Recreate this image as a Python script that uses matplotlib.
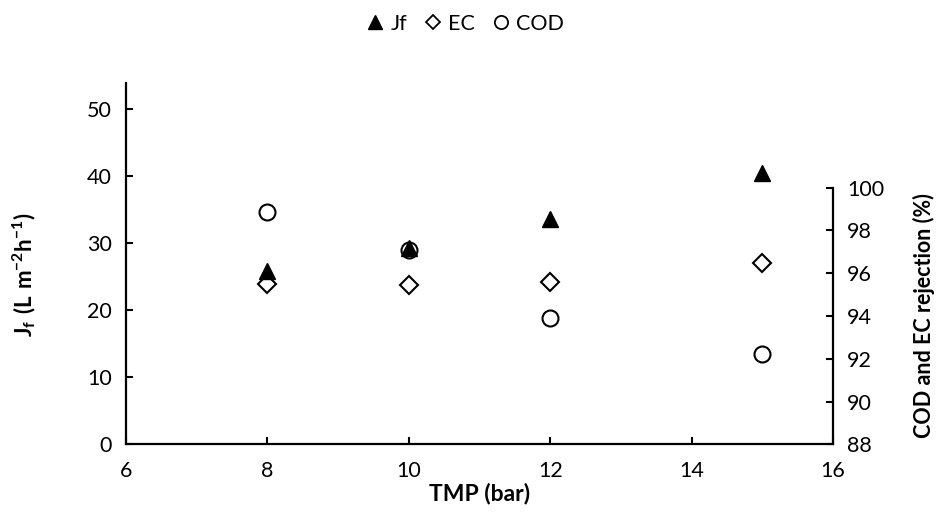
import matplotlib
matplotlib.use("Agg")
import matplotlib.pyplot as plt
from matplotlib.lines import Line2D

plt.rcParams['font.family'] = ['Lato', 'DejaVu Sans']
plt.rcParams['mathtext.fontset'] = 'custom'
plt.rcParams['mathtext.rm'] = 'Lato'
plt.rcParams['mathtext.bf'] = 'Lato:bold'

tmp = [8, 10, 12, 15]
jf = [25.9, 29.3, 33.6, 40.4]
ec = [95.5, 95.45, 95.6, 96.45]
cod = [98.85, 97.1, 93.9, 92.2]

xticks = [6, 8, 10, 12, 14, 16]
yticks_left = [0, 10, 20, 30, 40, 50]
yticks_right = [88, 90, 92, 94, 96, 98, 100]

fig = plt.figure(figsize=(9.36, 5.25), dpi=100)
ax = fig.add_axes([0.1346, 0.1537, 0.7554, 0.6876])
ax2 = ax.twinx()

ax.set_xlim(6, 16)
ax.set_ylim(0, 53.85)
ax2.set_ylim(88, 104.87)

ax.plot(tmp, jf, linestyle='none', marker='^', ms=12, mfc='black', mec='black', mew=1, zorder=5)
ax2.plot(tmp, ec, linestyle='none', marker='D', ms=9.5, mfc='white', mec='black', mew=1.5, zorder=3)
ax2.plot(tmp, cod, linestyle='none', marker='o', ms=11.5, mfc='white', mec='black', mew=1.5, zorder=2)
ax.set_zorder(ax2.get_zorder() + 1)
ax.patch.set_visible(False)

for a in (ax, ax2):
    a.spines['top'].set_visible(False)
    for s in a.spines.values():
        s.set_linewidth(1.6)
    a.tick_params(direction='in', length=5, width=1.5, labelsize=15.5, colors='black')

ax.spines['right'].set_visible(False)
ax2.spines['left'].set_visible(False)
ax2.spines['bottom'].set_visible(False)
ax2.spines['right'].set_bounds(88, 100)

ax.set_xticks(xticks)
ax.set_yticks(yticks_left)
ax2.set_yticks(yticks_right)
ax.tick_params(axis='x', pad=12)
ax.tick_params(axis='y', pad=10)
ax2.tick_params(axis='y', pad=10)

ax.set_xlabel('TMP (bar)', fontsize=16.5, fontweight='bold', labelpad=1)
ax.set_ylabel(r'$\mathbf{J_f\ (L\ m^{-2}h^{-1})}$', fontsize=16)
ax2.set_ylabel('COD and EC rejection (%)', fontsize=15.5, fontweight='bold')
ax.yaxis.set_label_coords(-0.124, 0.47)
ax2.yaxis.set_label_coords(1.1125, 0.358)

handles = [
    Line2D([], [], linestyle='none', marker='^', ms=9.5, mfc='black', mec='black'),
    Line2D([], [], linestyle='none', marker='D', ms=7, mfc='white', mec='black', mew=1.3),
    Line2D([], [], linestyle='none', marker='o', ms=9.5, mfc='white', mec='black', mew=1.3),
]
fig.legend(handles, ['Jf', 'EC', 'COD'], loc='center', bbox_to_anchor=(0.497, 0.955),
           ncol=3, frameon=False, fontsize=15.5, handlelength=0.8, handletextpad=0.3,
           columnspacing=0.8)

fig.savefig('out.png', dpi=100)
